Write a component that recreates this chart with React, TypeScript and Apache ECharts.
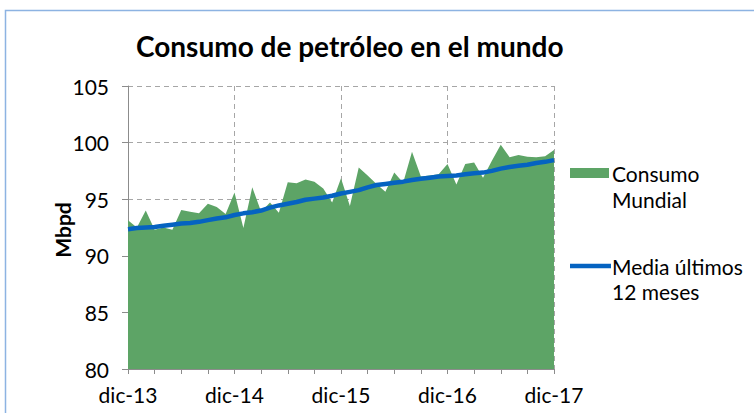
import React, { useEffect, useRef } from "react";
import * as echarts from "echarts";

const monthNames = ["ene", "feb", "mar", "abr", "may", "jun", "jul", "ago", "sep", "oct", "nov", "dic"];
const categories: string[] = ["dic-13"];
for (let y = 14; y <= 17; y++) {
  for (let m = 0; m < 12; m++) categories.push(`${monthNames[m]}-${y}`);
}

const consumo = [
  93.15, 92.5, 94.0, 92.3, 92.5, 92.3, 94.05, 93.9, 93.75, 94.6, 94.3, 93.7,
  95.6, 92.45, 96.05, 93.9, 94.7, 93.8, 96.5, 96.4, 96.75, 96.55, 95.95, 94.7,
  96.85, 94.4, 97.8, 97.1, 96.35, 95.65, 97.35, 96.45, 99.2, 97.0, 97.1, 97.2,
  98.1, 96.3, 98.1, 98.25, 96.9, 98.4, 99.8, 98.7, 98.9, 98.75, 98.7, 98.8,
  99.35,
];

const media12 = [
  92.35, 92.45, 92.5, 92.55, 92.65, 92.75, 92.85, 92.9, 93.0, 93.15, 93.3, 93.4,
  93.6, 93.75, 93.85, 94.0, 94.25, 94.45, 94.6, 94.75, 94.95, 95.05, 95.15, 95.3,
  95.5, 95.65, 95.8, 96.05, 96.25, 96.35, 96.45, 96.55, 96.7, 96.8, 96.9, 97.0,
  97.05, 97.1, 97.2, 97.3, 97.35, 97.5, 97.7, 97.85, 97.95, 98.05, 98.2, 98.3,
  98.45,
];

const GREEN = "#5DA466";
const BLUE = "#0563C1";
const FONT = "Lato, 'Open Sans', sans-serif";

export default function App() {
  const ref = useRef<HTMLDivElement>(null);
  useEffect(() => {
    if (!ref.current) return;
    const chart = echarts.init(ref.current, undefined, { renderer: "svg" });
    chart.setOption({
      animation: false,
      backgroundColor: "#ffffff",
      textStyle: { fontFamily: FONT },
      title: {
        text: "Consumo de petróleo en el mundo",
        left: 131,
        top: 27,
        textStyle: { fontFamily: FONT, fontSize: 28, fontWeight: "bold", color: "#000" },
      },
      grid: { left: 128, right: 200, top: 86, bottom: 44, containLabel: false },
      xAxis: {
        type: "category",
        data: categories,
        boundaryGap: false,
        axisLine: { show: true, lineStyle: { color: "#8c8c8c", width: 1 } },
        axisTick: {
          show: true,
          interval: (i: number) => i % 3 === 0,
          length: 5,
          lineStyle: { color: "#8c8c8c" },
        },
        axisLabel: {
          interval: (i: number) => i % 12 === 0,
          fontSize: 21,
          color: "#000",
          fontFamily: FONT,
          margin: 15,
        },
        splitLine: {
          show: true,
          interval: (i: number) => i % 12 === 0 && i !== 0,
          lineStyle: { color: "#a6a6a6", type: [5, 4], width: 1 },
        },
      },
      yAxis: {
        type: "value",
        min: 80,
        max: 105,
        interval: 5,
        axisLine: { show: true, lineStyle: { color: "#8c8c8c", width: 1 } },
        axisTick: { show: true, length: 6, lineStyle: { color: "#8c8c8c" } },
        axisLabel: { fontSize: 21, color: "#000", fontFamily: FONT, margin: 19 },
        splitLine: { show: true, lineStyle: { color: "#a6a6a6", type: [5, 4], width: 1 } },
      },
      series: [
        {
          name: "Consumo Mundial",
          type: "line",
          data: consumo,
          showSymbol: false,
          symbol: "none",
          lineStyle: { width: 0, color: GREEN },
          itemStyle: { color: GREEN },
          areaStyle: { color: GREEN, opacity: 1, origin: "start" },
          z: 2,
        },
        {
          name: "Media últimos 12 meses",
          type: "line",
          data: media12,
          showSymbol: false,
          symbol: "none",
          lineStyle: { width: 4.5, color: BLUE },
          itemStyle: { color: BLUE },
          z: 3,
        },
      ],
      graphic: [
        {
          type: "rect",
          shape: { x: 5.5, y: 10.5, width: 800, height: 500 },
          style: { fill: "none", stroke: "#8DB3E2", lineWidth: 1.5 },
          silent: true,
        },
        {
          type: "text",
          x: 62,
          y: 230,
          rotation: Math.PI / 2,
          style: {
            text: "Mbpd",
            fontSize: 21,
            fontWeight: "bold",
            fill: "#000",
            fontFamily: FONT,
            align: "center",
            verticalAlign: "middle",
          },
        },
        {
          type: "rect",
          shape: { x: 570, y: 168, width: 39, height: 10 },
          style: { fill: GREEN },
        },
        {
          type: "text",
          x: 612,
          y: 160,
          style: {
            text: "Consumo\nMundial",
            fontSize: 21,
            lineHeight: 26,
            fill: "#000",
            fontFamily: FONT,
          },
        },
        {
          type: "line",
          shape: { x1: 570, y1: 266, x2: 611, y2: 266 },
          style: { stroke: BLUE, lineWidth: 4.5 },
        },
        {
          type: "text",
          x: 612,
          y: 254,
          style: {
            text: "Media últimos\n12 meses",
            fontSize: 21,
            lineHeight: 25,
            fill: "#000",
            fontFamily: FONT,
          },
        },
      ],
    });
    return () => chart.dispose();
  }, []);
  return (
    <div
      ref={ref}
      style={{ position: "fixed", left: 0, top: 0, width: 754, height: 413 }}
    />
  );
}
